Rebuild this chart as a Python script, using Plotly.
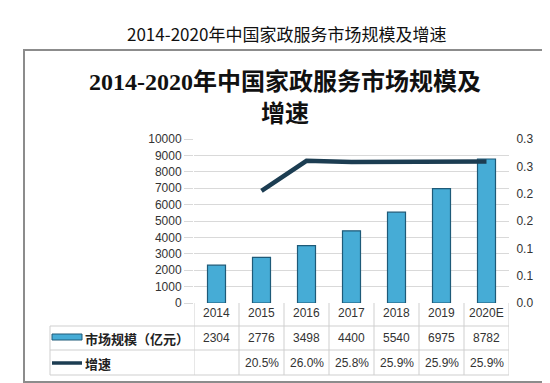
import plotly.graph_objects as go

years = ["2014", "2015", "2016", "2017", "2018", "2019", "2020E"]
market_size = [2304, 2776, 3498, 4400, 5540, 6975, 8782]
growth = [None, 0.205, 0.260, 0.258, 0.259, 0.259, 0.259]
right_tickvals = [0, 0.05, 0.10, 0.15, 0.20, 0.25, 0.30]
right_ticktext = ["0.0", "0.1", "0.1", "0.2", "0.2", "0.3", "0.3"]
left_tickvals = list(range(0, 10001, 1000))

W, H = 550, 383
L, R, T, B = 186, 501, 131, 295

def px(x):
    return (x - L) / (R - L)

def py(y):
    return (B - y) / (B - T)

CJK = "Noto Sans CJK SC"
SERIF = "Liberation Serif, Noto Sans CJK SC"
BAR_FILL = "#46acd6"
BAR_EDGE = "#1e5a78"
LINE_COL = "#1c3d52"
TXT = "#333333"
GRID = "#d9d9d9"
TABLE = "#cfcfcf"

fig = go.Figure()
fig.add_trace(go.Bar(
    x=years, y=market_size, name="市场规模（亿元）",
    marker=dict(color=BAR_FILL, line=dict(color=BAR_EDGE, width=1.2)),
    width=0.4, yaxis="y"))
fig.add_trace(go.Scatter(
    x=years, y=growth, name="增速", mode="lines",
    line=dict(color=LINE_COL, width=4.5), yaxis="y2", connectgaps=False))

shapes = []
shapes.append(dict(type="rect", xref="paper", yref="paper",
                   x0=px(16), x1=px(540), y0=py(42), y1=py(374),
                   line=dict(color="#8c8c8c", width=2), fillcolor="rgba(0,0,0,0)", layer="below"))
for yy in (318, 342, 367):
    shapes.append(dict(type="line", xref="paper", yref="paper",
                       x0=px(42), x1=1, y0=py(yy), y1=py(yy),
                       line=dict(color=TABLE, width=1)))
shapes.append(dict(type="line", xref="paper", yref="paper",
                   x0=px(42), x1=px(42), y0=py(318), y1=py(367),
                   line=dict(color=TABLE, width=1)))
for i in range(len(years) + 1):
    shapes.append(dict(type="line", xref="x", yref="paper",
                       x0=i - 0.5, x1=i - 0.5, y0=0, y1=py(367),
                       line=dict(color=TABLE, width=1)))
shapes.append(dict(type="rect", xref="paper", yref="paper",
                   x0=px(44), x1=px(74), y0=py(332), y1=py(326),
                   line=dict(color=BAR_EDGE, width=1), fillcolor=BAR_FILL))
shapes.append(dict(type="line", xref="paper", yref="paper",
                   x0=px(44), x1=px(74), y0=py(355), y1=py(355),
                   line=dict(color=LINE_COL, width=3.5)))

annotations = []
def note(text, x, y, size, family, color="#111111", xanchor="center", xref="paper"):
    annotations.append(dict(text=text, xref=xref, yref="paper", x=x, y=y, xanchor=xanchor,
                            yanchor="middle", showarrow=False,
                            font=dict(family=family, size=size, color=color)))

note("2014-2020年中国家政服务市场规模及增速", px(278), py(25), 17, CJK)
note("<b>2014-2020年中国家政服务市场规模及</b>", px(277), py(74), 24, SERIF)
note("<b>增速</b>", px(277), py(106), 24, SERIF)
note("<b>市场规模（亿元）</b>", px(75), py(330), 13, CJK, "#222222", "left")
note("<b>增速</b>", px(75), py(355), 13, CJK, "#222222", "left")
for i, (yr, v, g) in enumerate(zip(years, market_size, growth)):
    note(yr, i, py(305), 12, "Liberation Sans", TXT, "center", "x")
    note(str(v), i, py(330), 12, "Liberation Sans", TXT, "center", "x")
    if g is not None:
        note(f"{g*100:.1f}%", i, py(355), 12, "Liberation Sans", TXT, "center", "x")

fig.update_layout(
    width=W, height=H,
    margin=dict(l=L, r=W - R, t=T, b=H - B, pad=0),
    paper_bgcolor="white", plot_bgcolor="white",
    showlegend=False,
    xaxis=dict(type="category", range=[-0.5, len(years) - 0.5], showgrid=False,
               showline=False, ticks="", zeroline=False, showticklabels=False),
    yaxis=dict(range=[0, 10000], tickvals=left_tickvals, tickformat="d", showgrid=True,
               gridcolor=GRID, gridwidth=1, zeroline=False, showline=False,
               ticks="outside", ticklen=9, tickcolor=GRID,
               tickfont=dict(family="Liberation Sans", size=12, color=TXT)),
    yaxis2=dict(range=[0, 0.3], overlaying="y", side="right", tickvals=right_tickvals,
                ticktext=right_ticktext, showgrid=False, zeroline=False, showline=False,
                ticks="outside", ticklen=4, tickcolor="rgba(0,0,0,0)",
                tickfont=dict(family="Liberation Sans", size=12, color=TXT)),
    shapes=shapes, annotations=annotations,
)

fig.write_html("out.html")
